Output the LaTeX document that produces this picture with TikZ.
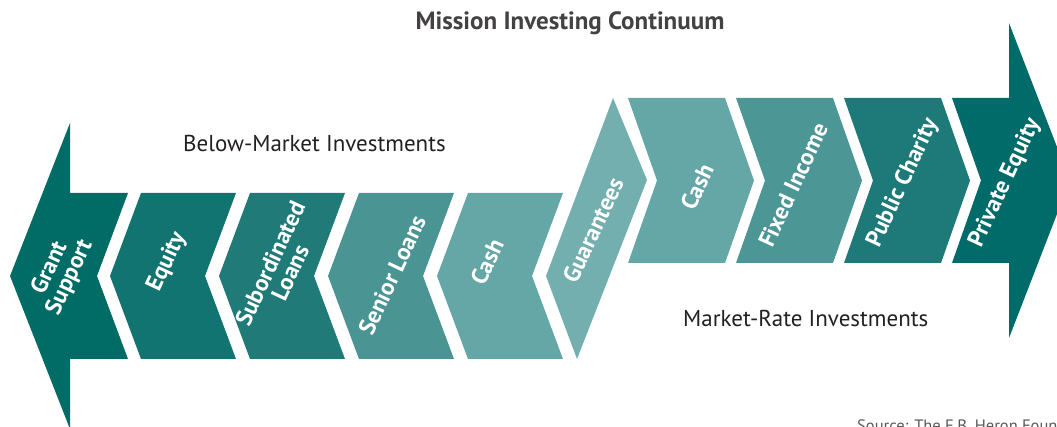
\documentclass[tikz,border=0pt]{standalone}
\usepackage{fontspec}
\setmainfont{PT Sans}
\definecolor{cA}{RGB}{0,108,101}
\definecolor{cB}{RGB}{17,116,112}
\definecolor{cC}{RGB}{31,122,120}
\definecolor{cD}{RGB}{74,149,148}
\definecolor{cE}{RGB}{101,166,166}
\definecolor{cF}{RGB}{115,175,174}
\definecolor{cG}{RGB}{76,150,149}
\definecolor{cH}{RGB}{30,122,121}
\definecolor{cI}{RGB}{0,107,104}
\definecolor{txt}{RGB}{35,31,32}
\definecolor{srcgray}{RGB}{90,90,90}
\begin{document}
\begin{tikzpicture}[x=1pt,y=-1pt,
  lab/.style={text=white,font=\fontsize{23.5}{22}\selectfont\bfseries,rotate=65,align=center,inner sep=0pt},
  head/.style={text=txt,font=\fontsize{23}{26}\selectfont,inner sep=0pt,anchor=base west},
  ttl/.style={text=txt!85!white,font=\fontsize{25}{28}\selectfont\bfseries,inner sep=0pt,anchor=base}]
\useasboundingbox (0,0) rectangle (1057,427);
\clip (0,0) rectangle (1057,427);
% below-market arrow (left pointing)
\fill[cA] (70,123) -- (70,193) -- (128,193) -- (97,276) -- (128,359) -- (70,359) -- (70,429) -- (10,276) -- cycle;
\fill[cB] (141,193) -- (236,193) -- (205,276) -- (236,359) -- (141,359) -- (110,276) -- cycle;
\fill[cC] (250,193) -- (345,193) -- (314,276) -- (345,359) -- (250,359) -- (219,276) -- cycle;
\fill[cD] (359,193) -- (454,193) -- (423,276) -- (454,359) -- (359,359) -- (328,276) -- cycle;
\fill[cE] (468,193) -- (563,193) -- (532,276) -- (563,359) -- (468,359) -- (437,276) -- cycle;
% guarantees bend
\fill[cF] (613,98) -- (647,180) -- (577,359) -- (546,276) -- cycle;
% market-rate arrow (right pointing)
\fill[cE] (628,98) -- (725,98) -- (754,180.5) -- (725,263) -- (628,263) -- (657,180.5) -- cycle;
\fill[cG] (736,98) -- (833,98) -- (862,180.5) -- (833,263) -- (736,263) -- (765,180.5) -- cycle;
\fill[cH] (844,98) -- (941,98) -- (970,180.5) -- (941,263) -- (844,263) -- (873,180.5) -- cycle;
\fill[cI] (952,98) -- (1009,98) -- (1009,23) -- (1070,180.5) -- (1009,338) -- (1009,263) -- (952,263) -- (981,180.5) -- cycle;
% labels
\node[lab] (l1) at (60,273) {Grant\\Support};
\node[lab] (l2) at (167,262) {Equity};
\node[lab] (l3) at (280,268) {Subordinated\\Loans};
\node[lab] (l4) at (392,275) {Senior Loans};
\node[lab] (l5) at (487,262) {Cash};
\node[lab] (l6) at (593,230) {Guarantees};
\node[lab] (l7) at (697,187) {Cash};
\node[lab] (l8) at (793,185) {Fixed Income};
\node[lab] (l9) at (903,183) {Public Charity};
\node[lab] (l10) at (1005,183) {Private Equity};
\node[head] (bm) at (183,152) {Below-Market Investments};
\node[head] (mr) at (683,327) {Market-Rate Investments};
\node[ttl] (t) at (570,30) {Mission Investing Continuum};
\node[text=srcgray,font=\fontsize{16.5}{16}\selectfont,inner sep=0pt,anchor=base west] (src) at (857,431) {Source: The F.B. Heron Foun};
\end{tikzpicture}
\end{document}
